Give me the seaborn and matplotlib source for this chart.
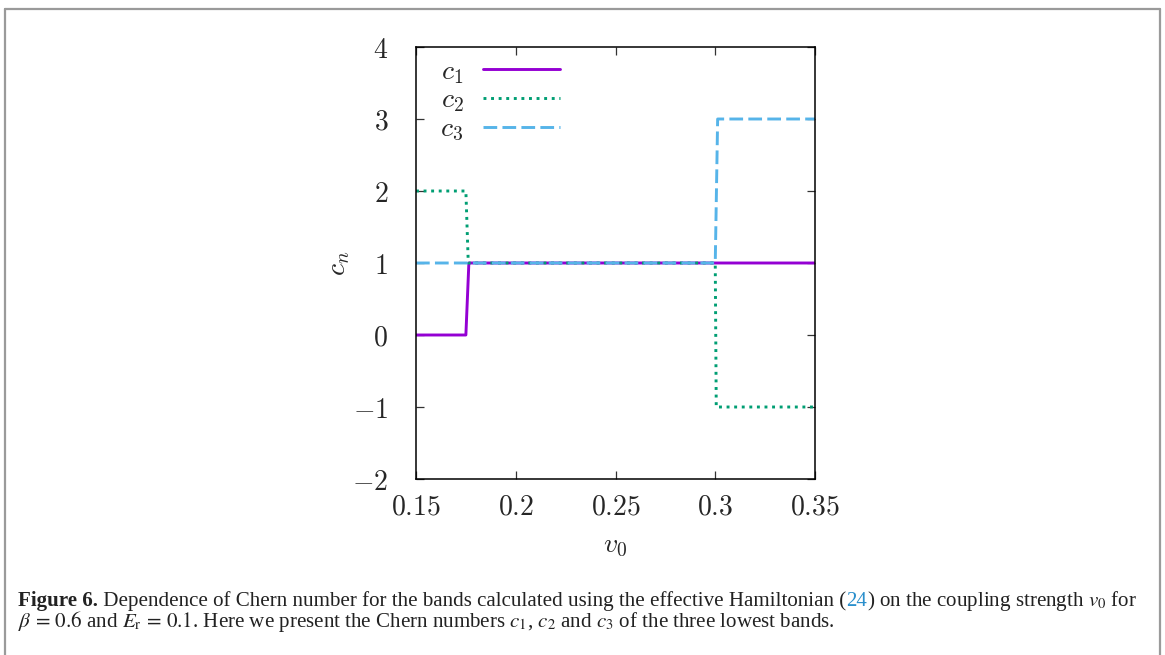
import matplotlib
matplotlib.use("Agg")
import matplotlib.pyplot as plt
import matplotlib.transforms as mtrans
from matplotlib.lines import Line2D
import seaborn as sns

# _______________________________________________
# Data
# _______________________________________________

v0_c1 = [0.15, 0.175, 0.1765, 0.35]
c1 = [0, 0, 1, 1]

v0_c2 = [0.15, 0.175, 0.1762, 0.3, 0.3005, 0.35]
c2 = [2, 2, 1, 1, -1, -1]

v0_c3 = [0.15, 0.3, 0.3012, 0.35]
c3 = [1, 1, 3, 3]

x_ticks = [0.15, 0.2, 0.25, 0.3, 0.35]
x_tick_labels = ["0.15", "0.2", "0.25", "0.3", "0.35"]
y_ticks = [-2, -1, 0, 1, 2, 3, 4]
y_tick_labels = ["-2", "-1", "0", "1", "2", "3", "4"]

series_labels = ["$c_1$", "$c_2$", "$c_3$"]
colors = ["#9400d3", "#009e73", "#56b4e9"]
line_styles = ["-", (0, (1, 1.6)), (0, (4.7, 1.8))]

# _______________________________________________
# Figure
# _______________________________________________

W, H = 1165, 655
sns.set_theme(style="ticks")
plt.rcParams["mathtext.fontset"] = "cm"
plt.rcParams["font.family"] = ["DejaVu Sans"]

fig = plt.figure(figsize=(W / 100, H / 100), dpi=100)
ax = fig.add_axes([416 / W, 1 - 479 / H, (815 - 416) / W, (479 - 47) / H])

for xs, ys, lab, col, ls in zip([v0_c1, v0_c2, v0_c3], [c1, c2, c3],
                                series_labels, colors, line_styles):
    sns.lineplot(x=xs, y=ys, ax=ax, color=col, linestyle=ls, linewidth=2.1,
                 label=lab, sort=False, estimator=None)

ax.set_xlim(0.15, 0.35)
ax.set_ylim(-2, 4)
ax.set_xticks(x_ticks, labels=["$" + t + "$" for t in x_tick_labels])
ax.set_yticks(y_ticks, labels=["$" + t + "$" for t in y_tick_labels])
ax.tick_params(direction="in", top=True, right=True, length=6, width=0.9,
               labelsize=20, color="#333333")
ax.tick_params(axis="x", pad=10)
ax.tick_params(axis="y", pad=20)
for sp in ax.spines.values():
    sp.set_linewidth(1.1)
    sp.set_color("black")

ax.set_xlabel("$v_0$", fontsize=20, labelpad=7)
ax.set_ylabel("$c_n$", fontsize=20, labelpad=0)

ax.legend(loc="upper left", bbox_to_anchor=(0.033, 1.003), borderaxespad=0,
          frameon=False, markerfirst=False, handlelength=2.75,
          handletextpad=0.72, labelspacing=0.0, fontsize=20)

# page frame
gray = "#9a9a9a"
fig.add_artist(Line2D([5 / W, 5 / W], [0, 1 - 9 / H], transform=fig.transFigure, color=gray, lw=1.6))
fig.add_artist(Line2D([1160 / W, 1160 / W], [0, 1 - 9 / H], transform=fig.transFigure, color=gray, lw=1.6))
fig.add_artist(Line2D([5 / W, 1160 / W], [1 - 9 / H, 1 - 9 / H], transform=fig.transFigure, color=gray, lw=1.6))

# _______________________________________________
# Caption
# _______________________________________________

cap_size = 15.1
renderer = fig.canvas.get_renderer()
pix = mtrans.IdentityTransform()


def put_chunks(x, y_top, chunks):
    for txt, weight, col in chunks:
        t = fig.text(x, H - y_top, txt, transform=pix, fontsize=cap_size,
                     family="Liberation Serif", math_fontfamily="stix",
                     weight=weight, color=col, va="baseline", ha="left")
        x = t.get_window_extent(renderer).x1


put_chunks(18, 606, [
    ("Figure 6.", "bold", "#222222"),
    (" Dependence of Chern number for the bands calculated using the effective Hamiltonian (", "normal", "#222222"),
    ("24", "normal", "#2a8fcc"),
    (") on the coupling strength $v_0$ for", "normal", "#222222"),
])
put_chunks(18, 627, [
    (r"$\beta\,=\,0.6$ and $E_\mathrm{r}\,=\,0.1$. Here we present the Chern numbers "
     r"$c_1$, $c_2$ and $c_3$ of the three lowest bands.", "normal", "#222222"),
])

fig.savefig("out.png", dpi=100)
